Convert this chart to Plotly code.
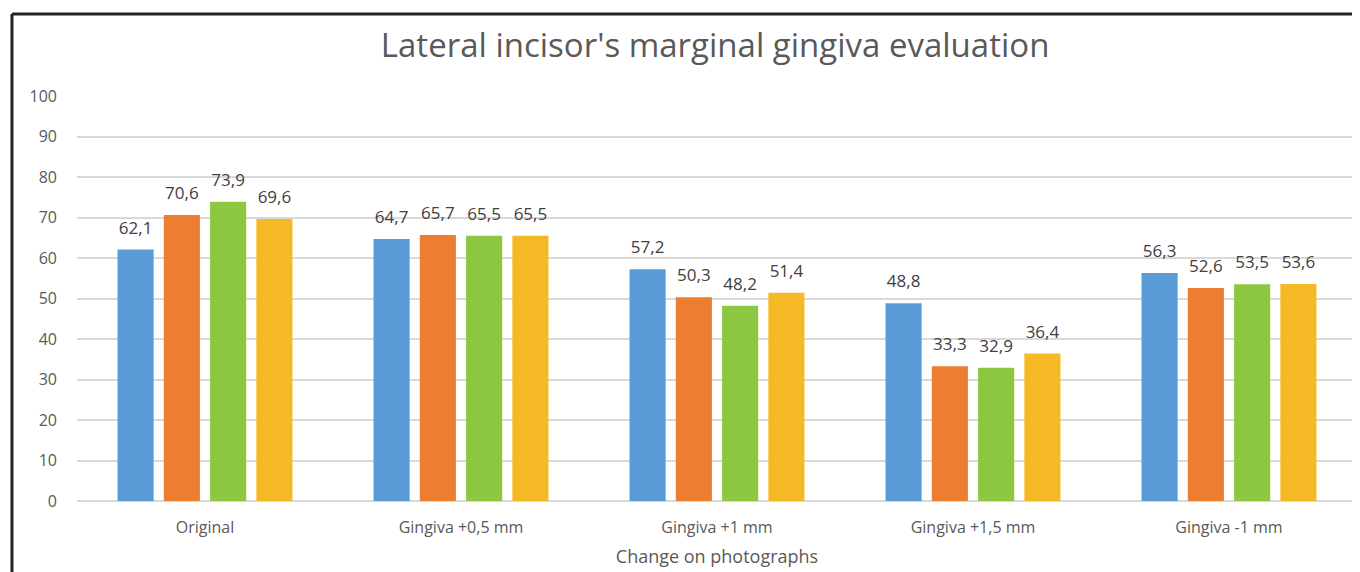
import plotly.graph_objects as go

categories = ["Original", "Gingiva +0,5 mm", "Gingiva +1 mm", "Gingiva +1,5 mm", "Gingiva -1 mm"]
series_names = ["Series 1", "Series 2", "Series 3", "Series 4"]
series_1 = [62.1, 64.7, 57.2, 48.8, 56.3]
series_2 = [70.6, 65.7, 50.3, 33.3, 52.6]
series_3 = [73.9, 65.5, 48.2, 32.9, 53.5]
series_4 = [69.6, 65.5, 51.4, 36.4, 53.6]
y_ticks = [0, 10, 20, 30, 40, 50, 60, 70, 80, 90, 100]

colors = ["#5B9BD5", "#ED7D31", "#8DC641", "#F5B925"]
font_family = "Open Sans, Lato, sans-serif"

fig = go.Figure()
all_series = [series_1, series_2, series_3, series_4]
for i, (name, vals, col) in enumerate(zip(series_names, all_series, colors)):
    fig.add_trace(go.Bar(
        x=categories, y=vals, name=name, marker_color=col,
        marker_line_width=0, offsetgroup=str(i),
    ))
# value labels: grouped text-only scatter aligned with the bars
for i, (name, vals) in enumerate(zip(series_names, all_series)):
    fig.add_trace(go.Scatter(
        x=categories, y=vals, name=name, mode="markers+text", offsetgroup=str(i),
        marker=dict(size=17, opacity=0),
        text=vals, texttemplate="%{y:.1f}", textposition="top center",
        textfont=dict(size=17, color="#404040", family=font_family),
        cliponaxis=False, hoverinfo="skip",
    ))

fig.update_layout(
    width=1352, height=564,
    margin=dict(l=69, r=3, t=88, b=71),
    paper_bgcolor="white", plot_bgcolor="white",
    separators=", ",
    barmode="group", bargap=0.277, bargroupgap=0.22,
    scattermode="group", scattergap=0.277,
    showlegend=False,
    title=dict(text="Lateral incisor's marginal gingiva evaluation",
               x=0.523, xref="container", xanchor="center", y=0.934, yanchor="middle",
               font=dict(size=33, color="#595959", family=font_family)),
    font=dict(family=font_family, color="#595959"),
)
fig.update_yaxes(range=[0, 100], tickvals=y_ticks, showgrid=True, gridcolor="#D9D9D9",
                 gridwidth=1.5, zeroline=True, zerolinecolor="#D9D9D9", zerolinewidth=1.5,
                 showline=False, ticks="", ticklabelstandoff=19,
                 tickfont=dict(size=16, color="#595959"))
fig.update_xaxes(showgrid=False, showline=False, ticks="", ticklabelstandoff=15,
                 tickfont=dict(size=16, color="#595959"),
                 title=dict(text="Change on photographs", standoff=13,
                            font=dict(size=18, color="#595959")))

# frame lines (top & left visible in the cropped reference)
fig.add_shape(type="line", xref="paper", yref="paper", x0=-0.0508, x1=1.1, y0=1.2025, y1=1.2025,
              line=dict(color="#222222", width=3))
fig.add_shape(type="line", xref="paper", yref="paper", x0=-0.0508, x1=-0.0508, y0=-0.5, y1=1.2025,
              line=dict(color="#222222", width=3))

fig.write_html("out.html")
